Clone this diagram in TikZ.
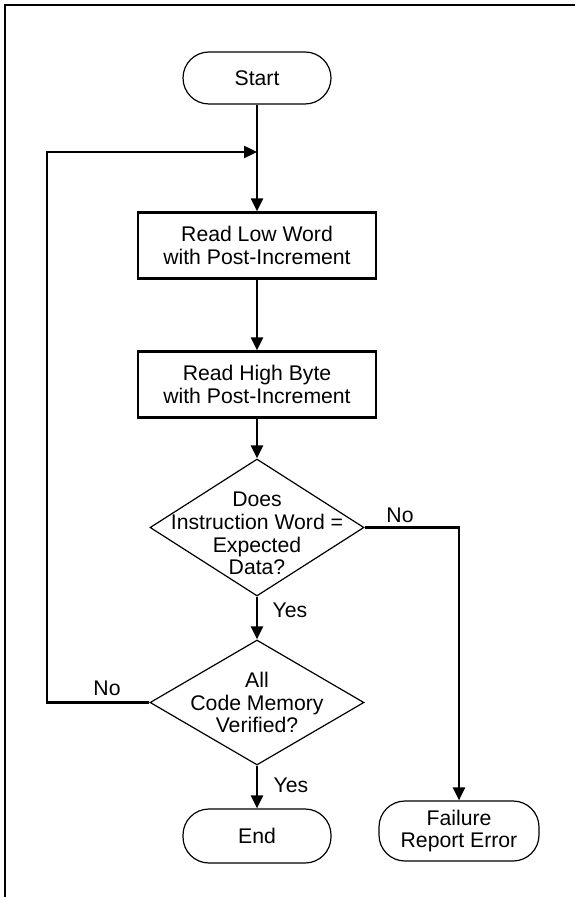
\documentclass[tikz,border=0pt]{standalone}
\usepackage{fontspec}
\setmainfont{Liberation Sans}
\usetikzlibrary{shapes.geometric,arrows.meta}

\tikzset{
  terminal/.style={draw, line width=0.6pt, rounded corners=13pt, minimum width=74pt, minimum height=26pt, inner sep=0pt, align=center},
  process/.style={draw, line width=1.2pt, minimum width=119pt, minimum height=33pt, inner sep=0pt, align=center},
  decision/.style={draw, diamond, line width=0.6pt, minimum width=107pt, inner sep=0pt},
  flow/.style={line width=1.2pt, -{Triangle[length=6.5pt,width=6pt]}},
}

\begin{document}
\begin{tikzpicture}[x=0.5pt, y=-0.5pt, font=\fontsize{10.6}{11.4}\selectfont]
      \useasboundingbox (0,0) rectangle (575,897);

      % Frame
      \draw[line width=1.4pt] (575,5) -- (5,5) -- (5,897);

      % Steps
      \node[terminal] (start) at (257,78) {Start};
      \node[process] (lowword) at (257,245.5) {Read Low Word\\with Post-Increment};
      \node[process] (highbyte) at (257,384.5) {Read High Byte\\with Post-Increment};
      \node[decision, minimum height=68.5pt, label={[align=center, yshift=-3pt]center:Does\\Instruction Word =\\Expected\\Data?}] (match) at (257,527.5) {};
      \node[decision, minimum height=62.5pt, label={[align=center]center:All\\Code Memory\\Verified?}] (verified) at (257,702.5) {};
      \node[terminal, minimum height=27pt] (finish) at (257,836) {End};
      \node[terminal, minimum width=80pt, minimum height=30pt] (failure) at (459,831) {Failure\\Report Error};

      % Loop back
      \coordinate (loopleft) at (47,152);
      \coordinate (looptop) at (257,152);

      % Connectors
      \draw[flow] (start) -- (lowword);
      \draw[flow] (lowword) -- (highbyte);
      \draw[flow] (highbyte) -- (match);
      \draw[flow] (match) -- (verified);
      \draw[flow] (verified) -- (finish);
      \draw[flow] (match.east) -| (failure.north);
      \draw[flow] (verified.west) -| (loopleft) -- (looptop);

      % Labels
      \node (matchno) at (400,515) {No};
      \node (matchyes) at (290,610) {Yes};
      \node (verifiedno) at (107,688) {No};
      \node (verifiedyes) at (291,785) {Yes};
  \end{tikzpicture}
\end{document}
